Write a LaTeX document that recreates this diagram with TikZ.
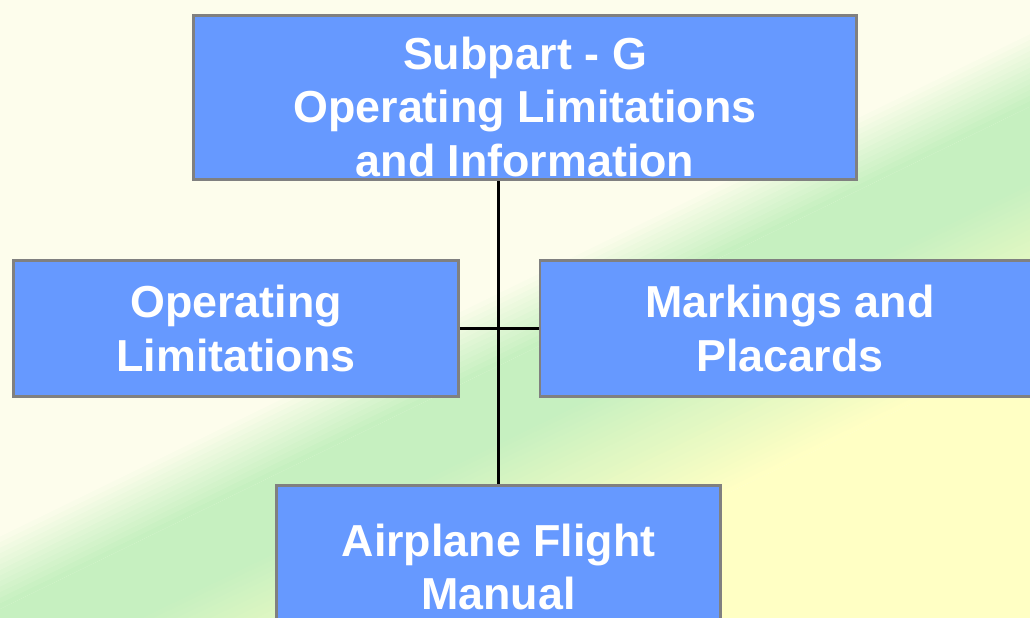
\documentclass[tikz,border=0pt]{standalone}
\usepackage{fontspec}
\setmainfont{Liberation Sans}
\usepackage{tikz}
\usetikzlibrary{positioning}
\definecolor{boxblue}{HTML}{6699FF}
\definecolor{boxgray}{HTML}{808080}
\definecolor{bgivory}{HTML}{FDFDEC}
\definecolor{bggreen}{HTML}{C6F0C0}
\definecolor{bgyellow}{HTML}{FFFFC4}

\begin{document}
\begin{tikzpicture}[thick,
    main node/.style={rectangle,draw=boxgray,line width=1.7pt,fill=boxblue,text=white,inner sep=0pt,align=center,font=\bfseries\fontsize{25.5}{30.5}\selectfont},
    link/.style={-,draw=black,line width=1.5pt}]
  \useasboundingbox (0,0) rectangle (20.6,12.34);
  % background band
  \begin{scope}
    \clip (0,0) rectangle (20.6,12.34);
    \fill[bgivory] (0,0) rectangle (20.6,12.34);
    \begin{scope}[shift={(10.3,4.85)},rotate=26]
      \fill[bgyellow] (-16,-16) rectangle (16,-4);
      \foreach \k in {0,...,29}{
        \pgfmathsetmacro{\pg}{\k/29*100}
        \fill[bggreen!\pg!bgyellow] (-16,-4+0.1*\k) rectangle (16,-3.89+0.1*\k);
      }
      \fill[bggreen] (-16,-1.1) rectangle (16,0.3);
      \foreach \k in {0,...,13}{
        \pgfmathsetmacro{\pg}{\k/13*100}
        \fill[bgivory!\pg!bggreen] (-16,0.3+0.1*\k) rectangle (16,0.41+0.1*\k);
      }
    \end{scope}
  \end{scope}

    \node[main node,minimum width=13.26cm,minimum height=3.28cm] (g) at (10.5,10.39) {\rule{0pt}{29pt}Subpart - G\\Operating Limitations\\and Information};
    \node[main node,minimum width=8.9cm,minimum height=2.72cm] (ol) at (4.72,5.77) {Operating\\Limitations};
    \node[main node,minimum width=10cm,minimum height=2.72cm] (mp) at (15.8,5.77) {Markings and\\Placards};
    \node[main node,minimum width=8.88cm,minimum height=3.26cm] (afm) at (9.97,1.0) {Airplane Flight\\Manual};

    \path[link] (afm.north) edge (afm.north |- g.south);
    \path[link] (ol.east) edge (mp.west);
\end{tikzpicture}
\end{document}
